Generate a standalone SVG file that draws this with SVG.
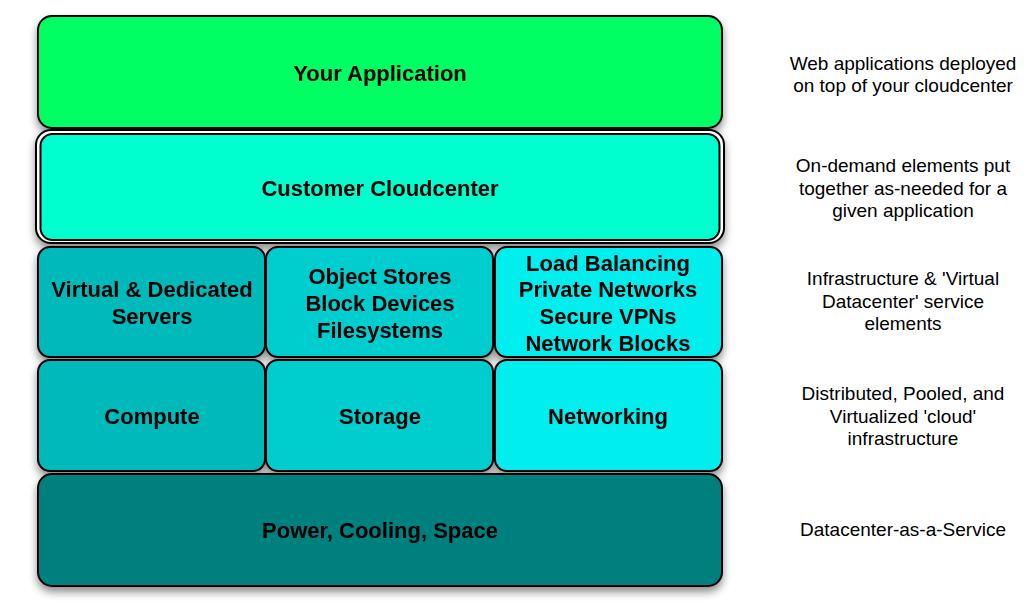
<svg xmlns="http://www.w3.org/2000/svg" width="1024" height="614" viewBox="0 0 1024 614">
<defs>
<filter id="sh" x="-10%" y="-10%" width="120%" height="130%">
<feDropShadow dx="0" dy="5" stdDeviation="4" flood-color="#000" flood-opacity="0.45"/>
</filter>
<style>
.b{stroke:#000;stroke-width:2}
.t{font-family:"Liberation Sans",Arial,sans-serif;font-weight:bold;font-size:22px;fill:#000;text-anchor:middle}
.d{font-family:"Liberation Sans",Arial,sans-serif;font-size:19px;fill:#000;text-anchor:middle}
</style>
</defs>
<rect width="1024" height="614" fill="#fff"/>
<g filter="url(#sh)">
<g id="app"><rect class="b" x="38" y="16" width="684" height="112" rx="14" fill="#00FF64"/>
<text class="t" x="380" y="81">Your Application</text></g>
<g id="customer"><rect class="b" x="36" y="130" width="688" height="113" rx="15" fill="#fff"/>
<rect class="b" x="40.5" y="134" width="679" height="106" rx="12" fill="#00FFCE"/>
<text class="t" x="380" y="196">Customer Cloudcenter</text></g>
<g id="servers"><rect class="b" x="38" y="247" width="227" height="110" rx="12" fill="#00B9BA"/>
<text class="t" x="152" y="297">Virtual &amp; Dedicated</text><text class="t" x="152" y="324">Servers</text></g>
<g id="storage-svc"><rect class="b" x="266" y="247" width="227" height="110" rx="12" fill="#00CDCE"/>
<text class="t" x="380" y="284">Object Stores</text><text class="t" x="380" y="311">Block Devices</text><text class="t" x="380" y="338">Filesystems</text></g>
<g id="network-svc"><rect class="b" x="495" y="247" width="227" height="110" rx="12" fill="#00EEEE"/>
<text class="t" x="608" y="271">Load Balancing</text><text class="t" x="608" y="297">Private Networks</text><text class="t" x="608" y="324">Secure VPNs</text><text class="t" x="608" y="351">Network Blocks</text></g>
<g id="compute"><rect class="b" x="38" y="360" width="227" height="111" rx="12" fill="#00B9BA"/>
<text class="t" x="152" y="424">Compute</text></g>
<g id="storage"><rect class="b" x="266" y="360" width="227" height="111" rx="12" fill="#00CDCE"/>
<text class="t" x="380" y="424">Storage</text></g>
<g id="networking"><rect class="b" x="495" y="360" width="227" height="111" rx="12" fill="#00EEEE"/>
<text class="t" x="608" y="424">Networking</text></g>
<g id="power"><rect class="b" x="38" y="474" width="684" height="112" rx="14" fill="#007F7F"/>
<text class="t" x="380" y="538">Power, Cooling, Space</text></g>
</g>
<g id="descriptions">
<text class="d" x="903" y="70">Web applications deployed</text>
<text class="d" x="903" y="92">on top of your cloudcenter</text>
<text class="d" x="903" y="172">On-demand elements put</text>
<text class="d" x="903" y="195">together as-needed for a</text>
<text class="d" x="903" y="217">given application</text>
<text class="d" x="903" y="285">Infrastructure &amp; 'Virtual</text>
<text class="d" x="903" y="308">Datacenter' service</text>
<text class="d" x="903" y="330">elements</text>
<text class="d" x="903" y="400">Distributed, Pooled, and</text>
<text class="d" x="903" y="423">Virtualized 'cloud'</text>
<text class="d" x="903" y="445">infrastructure</text>
<text class="d" x="903" y="536">Datacenter-as-a-Service</text>
</g>
<g id="connectors"/>
</svg>
